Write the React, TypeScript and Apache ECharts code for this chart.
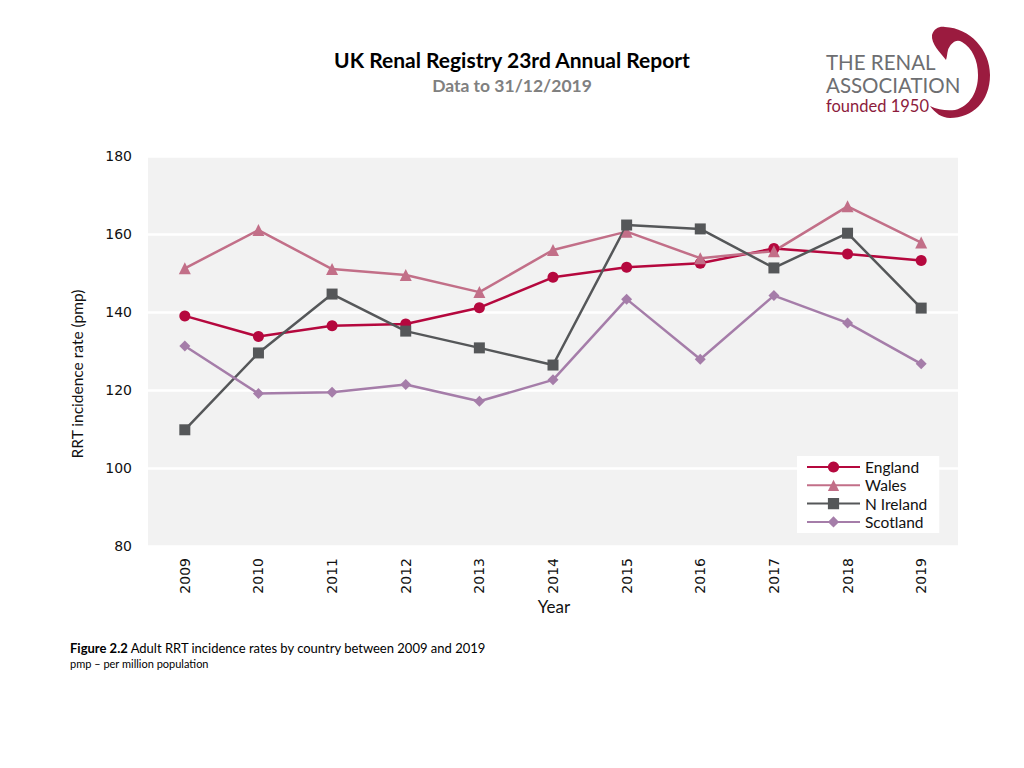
import React, { useEffect, useRef } from "react";
import * as echarts from "echarts";

const years = ["2009", "2010", "2011", "2012", "2013", "2014", "2015", "2016", "2017", "2018", "2019"];
const england = [139.0, 133.7, 136.5, 136.9, 141.1, 148.9, 151.5, 152.5, 156.3, 154.9, 153.2];
const wales = [151.2, 161.0, 151.0, 149.5, 145.1, 155.9, 160.6, 153.8, 155.6, 167.1, 157.8];
const nIreland = [109.8, 129.5, 144.6, 135.1, 130.8, 126.4, 162.3, 161.3, 151.3, 160.2, 141.0];
const scotland = [131.3, 119.1, 119.4, 121.4, 117.1, 122.6, 143.3, 127.9, 144.2, 137.2, 126.7];
const yTicks = { min: 80, max: 180, interval: 20 };

const CAL = "Lato, 'Open Sans', sans-serif";
const VER = "'DejaVu Sans', Verdana, sans-serif";

echarts.graphic.registerShape(
  "kidney",
  echarts.graphic.extendPath(
    "M 12 15 C 14 8 20 6 25 7 C 50 8 70 30 70 55 C 70 82 52 98 30 98 C 22 98 15 93 10 86 C 18 90 27 91 35 90 C 50 86 58 72 58 55 C 58 40 52 28 42 22 C 36 18 30 24 28 30 C 27 34 27 37 26 40 C 20 32 11 24 12 15 Z",
    {}
  )
);

export default function App() {
  const ref = useRef<HTMLDivElement>(null);
  useEffect(() => {
    if (!ref.current) return;
    const chart = echarts.init(ref.current, null, { renderer: "svg" });
    const mk = (name: string, data: number[], color: string, symbol: string, size: number) => ({
      name,
      type: "line",
      data,
      symbol,
      symbolSize: size,
      lineStyle: { color, width: 2.5 },
      itemStyle: { color },
      z: 3,
    });
    chart.setOption({
      animation: false,
      backgroundColor: "#ffffff",
      title: [
        {
          text: "UK Renal Registry 23rd Annual Report",
          left: "center",
          top: 44,
          textStyle: { fontFamily: CAL, fontSize: 21, fontWeight: "bold", color: "#000000" },
        },
        {
          text: "Data to 31/12/2019",
          left: "center",
          top: 71,
          textStyle: { fontFamily: CAL, fontSize: 17.5, fontWeight: "bold", color: "#808080" },
        },
      ],
      grid: {
        left: 148,
        top: 156,
        width: 810,
        height: 390,
        show: true,
        backgroundColor: "#f2f2f2",
        borderWidth: 0,
      },
      legend: {
        orient: "vertical",
        left: 797,
        top: 456,
        backgroundColor: "#ffffff",
        padding: [3, 12, 3, 9],
        itemWidth: 53,
        itemHeight: 14,
        itemGap: 2.3,
        textStyle: { fontFamily: CAL, fontSize: 15.5, color: "#111111" },
        data: ["England", "Wales", "N Ireland", "Scotland"],
      },
      xAxis: {
        type: "category",
        data: years,
        boundaryGap: true,
        axisLine: { show: false },
        axisTick: { show: false },
        axisLabel: { rotate: 90, margin: 12, fontFamily: VER, fontSize: 14, color: "#111111" },
      },
      yAxis: {
        type: "value",
        min: yTicks.min,
        max: yTicks.max,
        interval: yTicks.interval,
        axisLine: { show: false },
        axisTick: { show: false },
        axisLabel: { margin: 16, fontFamily: VER, fontSize: 14, color: "#111111" },
        splitLine: { lineStyle: { color: "#ffffff", width: 2.5 } },
      },
      series: [
        mk("England", england, "#b5083e", "circle", 11),
        mk("Wales", wales, "#c26f88", "triangle", 12),
        mk("N Ireland", nIreland, "#555759", "rect", 11),
        mk("Scotland", scotland, "#a57da9", "diamond", 11),
      ],
      graphic: [
        {
          type: "kidney",
          x: 920,
          y: 20,
          scaleX: 1,
          scaleY: 1,
          style: { fill: "#9b1b3f" },
        },
        {
          type: "text",
          x: 77,
          y: 374,
          rotation: Math.PI / 2,
          style: {
            text: "RRT incidence rate (pmp)",
            fontFamily: CAL,
            fontSize: 15.5,
            fill: "#111111",
            align: "center",
            verticalAlign: "middle",
          },
        },
        {
          type: "text",
          x: 554,
          y: 606,
          style: {
            text: "Year",
            fontFamily: CAL,
            fontSize: 17,
            fill: "#111111",
            align: "center",
            verticalAlign: "middle",
          },
        },
        {
          type: "text",
          x: 826,
          y: 62,
          style: {
            text: "THE RENAL",
            fontFamily: CAL,
            fontSize: 20.5,
            lineHeight: 20,
            fill: "#6d6e71",
            verticalAlign: "middle",
          },
        },
        {
          type: "text",
          x: 826,
          y: 85,
          style: {
            text: "ASSOCIATION",
            fontFamily: CAL,
            fontSize: 20.5,
            lineHeight: 20,
            fill: "#6d6e71",
            verticalAlign: "middle",
          },
        },
        {
          type: "text",
          x: 826,
          y: 106,
          style: {
            text: "founded 1950",
            fontFamily: CAL,
            fontSize: 16.5,
            lineHeight: 16,
            fill: "#8c1b3c",
            verticalAlign: "middle",
          },
        },
        {
          type: "text",
          x: 70,
          y: 641,
          style: {
            rich: {
              b: { fontFamily: CAL, fontSize: 13, fontWeight: "bold", fill: "#000000" },
              n: { fontFamily: CAL, fontSize: 13, fill: "#000000" },
            },
            text: "{b|Figure 2.2}{n| Adult RRT incidence rates by country between 2009 and 2019}",
          },
        },
        {
          type: "text",
          x: 70,
          y: 658,
          style: { text: "pmp – per million population", fontFamily: CAL, fontSize: 11, fill: "#000000" },
        },
      ],
    });
    return () => chart.dispose();
  }, []);
  return (
    <div
      ref={ref}
      style={{ position: "absolute", left: 0, top: 0, width: 1024, height: 768 }}
    />
  );
}
